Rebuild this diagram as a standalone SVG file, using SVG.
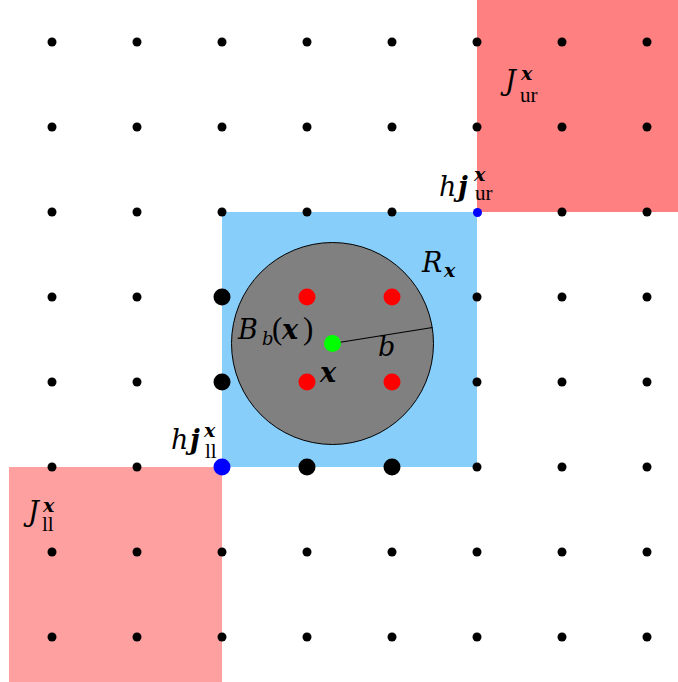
<svg xmlns="http://www.w3.org/2000/svg" width="678" height="682" viewBox="0 0 678 682">
<style>
text{font-family:"DejaVu Serif",serif;fill:#000}
.m{font-style:italic;font-size:27px}
.mb{font-style:italic;font-weight:bold;font-size:27px}
.sb{font-style:italic;font-weight:bold;font-size:19px}
.si{font-style:italic;font-size:18px}
.sr{font-family:"Liberation Serif",serif;font-style:normal;font-size:21px}
.r{font-family:"Liberation Serif",serif;font-style:normal;font-size:31px}
.d{fill:#000}
</style>
<rect width="678" height="682" fill="#fff"/>
<g id="J_ur"><rect x="477" y="0" width="201" height="212" fill="#ff8080"/></g>
<g id="J_ll"><rect x="9" y="467" width="213" height="215" fill="#ffa0a0"/></g>
<g id="R_x"><rect x="222" y="212" width="255" height="255" fill="#87cefa"/></g>
<g id="B_b"><circle cx="332.5" cy="343.5" r="101" fill="#808080" stroke="#000" stroke-width="1"/></g>
<g id="connectors"><line x1="332.5" y1="343.5" x2="432.5" y2="327.5" stroke="#000" stroke-width="1.2"/></g>
<g id="grid">
<g class="d">
<circle cx="52" cy="42" r="4.5"/><circle cx="137" cy="42" r="4.5"/><circle cx="222" cy="42" r="4.5"/><circle cx="307" cy="42" r="4.5"/><circle cx="392" cy="42" r="4.5"/><circle cx="477" cy="42" r="4.5"/><circle cx="562" cy="42" r="4.5"/><circle cx="647" cy="42" r="4.5"/>
<circle cx="52" cy="127" r="4.5"/><circle cx="137" cy="127" r="4.5"/><circle cx="222" cy="127" r="4.5"/><circle cx="307" cy="127" r="4.5"/><circle cx="392" cy="127" r="4.5"/><circle cx="477" cy="127" r="4.5"/><circle cx="562" cy="127" r="4.5"/><circle cx="647" cy="127" r="4.5"/>
<circle cx="52" cy="212" r="4.5"/><circle cx="137" cy="212" r="4.5"/><circle cx="222" cy="212" r="4.5"/><circle cx="307" cy="212" r="4.5"/><circle cx="392" cy="212" r="4.5"/><circle cx="562" cy="212" r="4.5"/><circle cx="647" cy="212" r="4.5"/>
<circle cx="52" cy="297" r="4.5"/><circle cx="137" cy="297" r="4.5"/><circle cx="477" cy="297" r="4.5"/><circle cx="562" cy="297" r="4.5"/><circle cx="647" cy="297" r="4.5"/>
<circle cx="52" cy="382" r="4.5"/><circle cx="137" cy="382" r="4.5"/><circle cx="477" cy="382" r="4.5"/><circle cx="562" cy="382" r="4.5"/><circle cx="647" cy="382" r="4.5"/>
<circle cx="52" cy="467" r="4.5"/><circle cx="137" cy="467" r="4.5"/><circle cx="477" cy="467" r="4.5"/><circle cx="562" cy="467" r="4.5"/><circle cx="647" cy="467" r="4.5"/>
<circle cx="52" cy="552" r="4.5"/><circle cx="137" cy="552" r="4.5"/><circle cx="222" cy="552" r="4.5"/><circle cx="307" cy="552" r="4.5"/><circle cx="392" cy="552" r="4.5"/><circle cx="477" cy="552" r="4.5"/><circle cx="562" cy="552" r="4.5"/><circle cx="647" cy="552" r="4.5"/>
<circle cx="52" cy="637" r="4.5"/><circle cx="137" cy="637" r="4.5"/><circle cx="222" cy="637" r="4.5"/><circle cx="307" cy="637" r="4.5"/><circle cx="392" cy="637" r="4.5"/><circle cx="477" cy="637" r="4.5"/><circle cx="562" cy="637" r="4.5"/><circle cx="647" cy="637" r="4.5"/>
<circle cx="222" cy="297" r="8.5"/><circle cx="222" cy="382" r="8.5"/><circle cx="307" cy="467" r="8.5"/><circle cx="392" cy="467" r="8.5"/>
</g>
<g fill="#ff0000"><circle cx="307" cy="297" r="8.5"/><circle cx="392" cy="297" r="8.5"/><circle cx="307" cy="382" r="8.5"/><circle cx="392" cy="382" r="8.5"/></g>
<circle cx="332.5" cy="343.5" r="8.5" fill="#00ff00"/>
<circle cx="477.5" cy="212.5" r="4.5" fill="#0000ff"/>
<circle cx="222" cy="467" r="8.5" fill="#0000ff"/>
</g>
<g id="labels">
<text><tspan class="m" x="505" y="90">J</tspan><tspan class="sb" x="521" y="80">x</tspan><tspan class="sr" x="520" y="102">ur</tspan></text>
<text><tspan class="m" x="439" y="196">h</tspan><tspan class="mb" x="458" y="196">j</tspan><tspan class="sb" x="474" y="181">x</tspan><tspan class="sr" x="475" y="200">ur</tspan></text>
<text><tspan class="m" x="422" y="272">R</tspan><tspan class="sb" x="444" y="277">x</tspan></text>
<text><tspan class="m" x="238" y="339">B</tspan><tspan class="si" x="262" y="345">b</tspan><tspan class="r" x="272" y="339">(</tspan><tspan class="mb" x="282" y="339">x</tspan><tspan class="r" x="303" y="339">)</tspan></text>
<text class="m" x="378" y="356">b</text>
<text class="mb" x="320" y="382">x</text>
<text><tspan class="m" x="171" y="449">h</tspan><tspan class="mb" x="190" y="449">j</tspan><tspan class="sb" x="204" y="437">x</tspan><tspan class="sr" x="205" y="458">ll</tspan></text>
<text><tspan class="m" x="28" y="521">J</tspan><tspan class="sb" x="43" y="512">x</tspan><tspan class="sr" x="42" y="531">ll</tspan></text>
</g>
</svg>
